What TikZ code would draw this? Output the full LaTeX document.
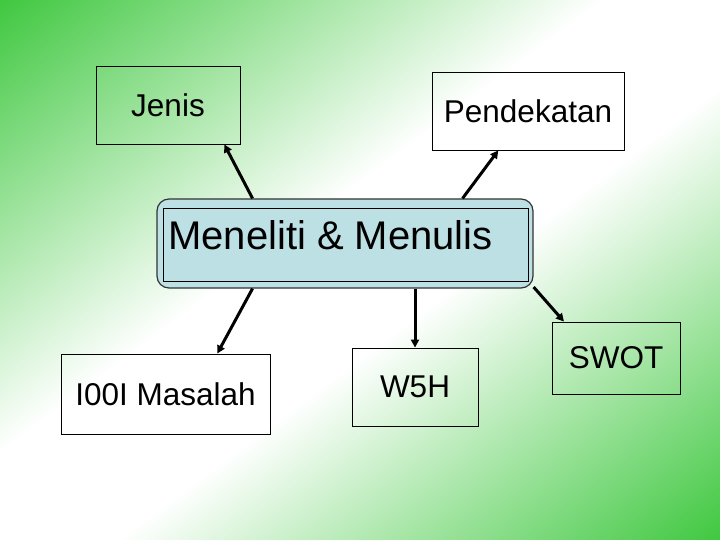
\documentclass[tikz,border=0pt]{standalone}
\usepackage{fontspec}
\setmainfont{Liberation Sans}
\usetikzlibrary{arrows.meta}
\definecolor{bggreen}{RGB}{64,200,64}
\definecolor{hubblue}{RGB}{189,224,229}
\pgfdeclareverticalshading{slideback}{100bp}{color(0bp)=(bggreen); color(25bp)=(bggreen); color(46bp)=(white); color(54bp)=(white); color(75bp)=(bggreen); color(100bp)=(bggreen)}

\begin{document}
\begin{tikzpicture}[x=1bp, y=-1bp,
  topic/.style = {draw, line width=.8bp, inner sep=0pt, font=\fontsize{31.5bp}{38bp}\selectfont},
  hubframe/.style = {draw=black!80, line width=1.2bp, fill=hubblue, rounded corners=12bp, inner sep=0pt},
  link/.style = {line width=3bp, -{Triangle[length=8bp, width=8bp]}}]
\useasboundingbox (0,0) rectangle (720,540);
% background: green corners, white along the other diagonal
\begin{scope}
  \clip (0,0) rectangle (720,540);
  \begin{scope}[transform canvas={shift={(360,270)}, rotate=36.87}]
    \shade[shading=slideback] (-600,-432) rectangle (600,432);
  \end{scope}
\end{scope}

\node[hubframe, minimum width=376bp, minimum height=89bp] (hub) at (345,243.5) {};
\node[draw, line width=.8bp, inner sep=0pt, minimum width=365bp, minimum height=73bp] (hubinner) at (345.5,244.5) {};
\node[anchor=base west, inner sep=0pt, font=\fontsize{40bp}{48bp}\selectfont] (hubtext) at (168,250) {Meneliti \& Menulis};

\node[topic, minimum width=144bp, minimum height=78bp] (jenis) at (168,105) {Jenis};
\node[topic, minimum width=192bp, minimum height=78bp] (pendekatan) at (528,111) {Pendekatan};
\node[topic, minimum width=209bp, minimum height=80bp] (masalah) at (165.5,394) {I00I Masalah};
\node[topic, minimum width=126bp, minimum height=78bp] (w5h) at (415,387) {W5H};
\node[topic, minimum width=128bp, minimum height=72bp] (swot) at (616,358) {SWOT};

\draw[link] (hub.154.67) -- (jenis.-35.84);
\draw[link] (hub.21) -- (pendekatan.-127.57);
\draw[link] (hub.-154.67) -- (masalah.38.38);
\draw[link] (hub.south -| w5h.north) -- (w5h.north);
\draw[link] (hub.-13.67) -- (swot.145.8);
\end{tikzpicture}
\end{document}
